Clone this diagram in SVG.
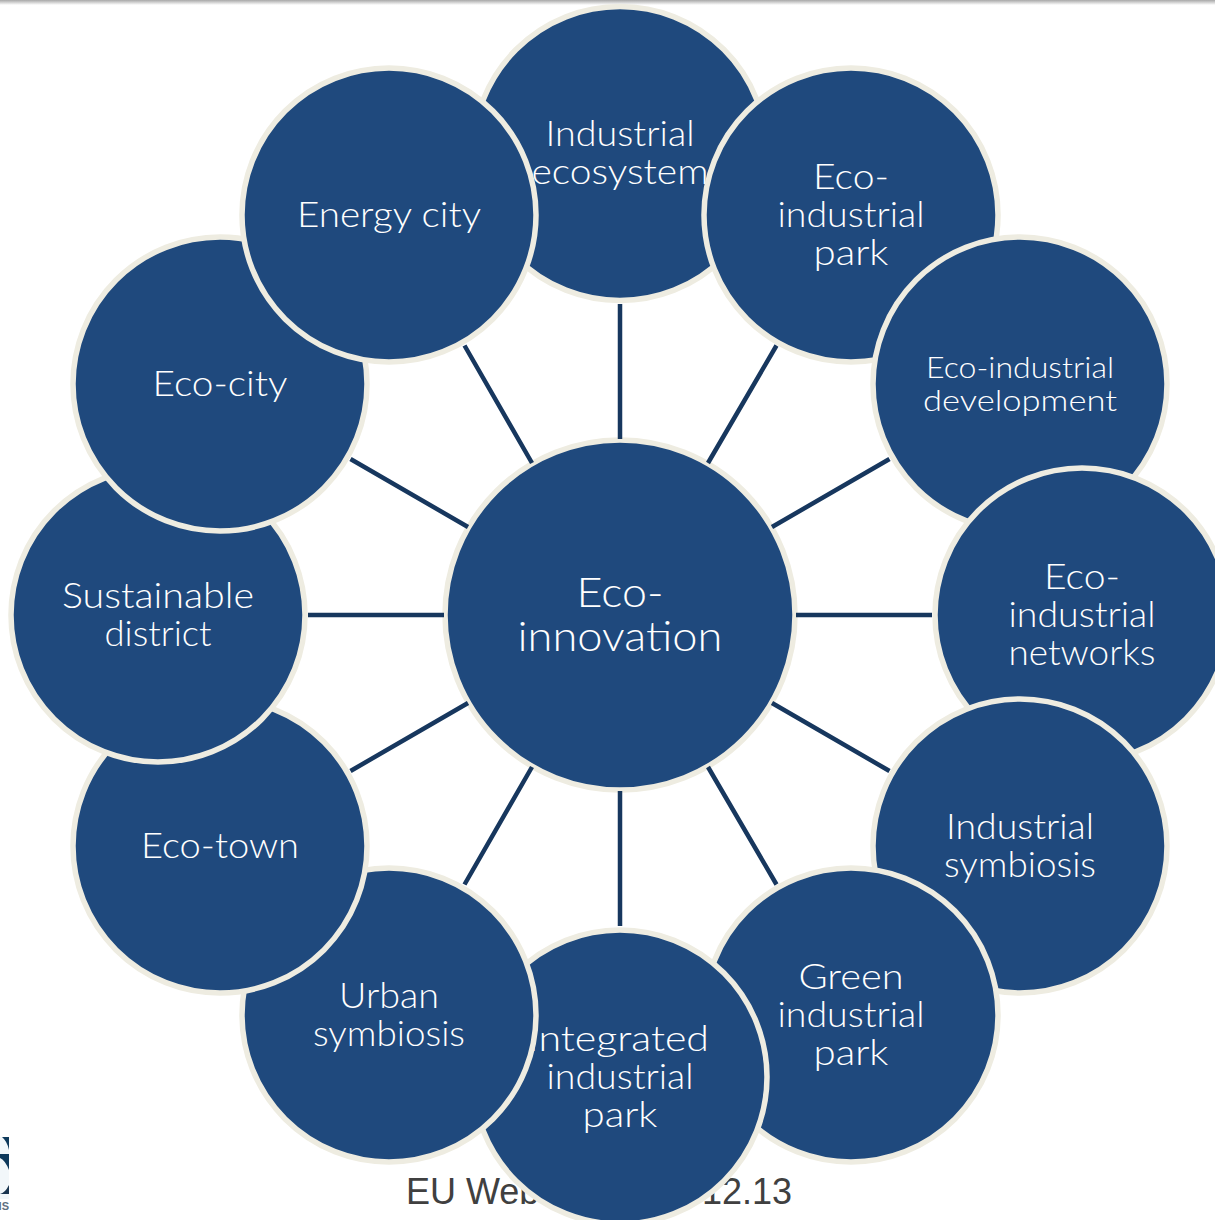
<svg xmlns="http://www.w3.org/2000/svg" width="1215" height="1220" viewBox="0 0 1215 1220">
<defs><linearGradient id="bar" x1="0" y1="0" x2="0" y2="1"><stop offset="0" stop-color="#a8a8a8"/><stop offset="1" stop-color="#ffffff"/></linearGradient></defs>
<style>
.c{fill:#1f497d;stroke:#eeece1;stroke-width:5.5}
.t{font-family:"Lato","Open Sans",sans-serif;font-weight:300;font-size:35px;fill:#fff;text-anchor:middle}
.s{stroke:#17375e;stroke-width:4.5;fill:none}
.f{font-family:"Liberation Sans",Arial,sans-serif;font-size:36px;fill:#404040}
</style>
<rect width="1215" height="1220" fill="#fff"/>
<rect width="1215" height="5" fill="url(#bar)"/>
<g id="logo"><rect x="0" y="1137" width="9" height="62" fill="#f2f7fa"/><path d="M2 1137H9V1150Q7 1141 2 1137Z" fill="#0f3a5c"/><path d="M0 1154H9V1170Q5 1160 0 1158Z" fill="#0f3a5c"/><path d="M0 1194Q5 1193 9 1185V1194Z" fill="#1a3550"/><text x="9" y="1210" font-family="Liberation Sans,sans-serif" font-size="11" font-weight="bold" fill="#607080" text-anchor="end">IS</text></g>
<text class="f" x="406" y="1204">EU Web</text><text class="f" x="792" y="1204" text-anchor="end">12.13</text>
<g id="n-industrial-ecosystem"><circle class="c" cx="620" cy="153.5" r="147"/><text class="t" x="620" y="146" textLength="149" lengthAdjust="spacingAndGlyphs">Industrial</text><text class="t" x="620" y="184" textLength="177" lengthAdjust="spacingAndGlyphs">ecosystem</text></g>
<g id="n-eco-industrial-park"><circle class="c" cx="851" cy="215" r="147"/><text class="t" x="851" y="189" textLength="76" lengthAdjust="spacingAndGlyphs">Eco-</text><text class="t" x="851" y="227" textLength="147" lengthAdjust="spacingAndGlyphs">industrial</text><text class="t" x="851" y="265" textLength="75" lengthAdjust="spacingAndGlyphs">park</text></g>
<g id="n-eco-industrial-development"><circle class="c" cx="1020" cy="384" r="147"/><text class="t" x="1020" y="378" style="font-size:30px" textLength="188" lengthAdjust="spacingAndGlyphs">Eco-industrial</text><text class="t" x="1020" y="411" style="font-size:30px" textLength="194" lengthAdjust="spacingAndGlyphs">development</text></g>
<g id="n-eco-industrial-networks"><circle class="c" cx="1082" cy="615" r="147"/><text class="t" x="1082" y="589" textLength="76" lengthAdjust="spacingAndGlyphs">Eco-</text><text class="t" x="1082" y="627" textLength="147" lengthAdjust="spacingAndGlyphs">industrial</text><text class="t" x="1082" y="665" textLength="147" lengthAdjust="spacingAndGlyphs">networks</text></g>
<g id="n-industrial-symbiosis"><circle class="c" cx="1020" cy="846" r="147"/><text class="t" x="1020" y="839" textLength="148" lengthAdjust="spacingAndGlyphs">Industrial</text><text class="t" x="1020" y="877" textLength="152" lengthAdjust="spacingAndGlyphs">symbiosis</text></g>
<g id="n-green-industrial-park"><circle class="c" cx="851" cy="1015" r="147"/><text class="t" x="851" y="989" textLength="105" lengthAdjust="spacingAndGlyphs">Green</text><text class="t" x="851" y="1027" textLength="147" lengthAdjust="spacingAndGlyphs">industrial</text><text class="t" x="851" y="1065" textLength="75" lengthAdjust="spacingAndGlyphs">park</text></g>
<g id="n-integrated-industrial-park"><circle class="c" cx="620" cy="1077" r="147"/><text class="t" x="618.5" y="1051" textLength="181" lengthAdjust="spacingAndGlyphs">Integrated</text><text class="t" x="620" y="1089" textLength="147" lengthAdjust="spacingAndGlyphs">industrial</text><text class="t" x="620" y="1127" textLength="75" lengthAdjust="spacingAndGlyphs">park</text></g>
<g id="n-urban-symbiosis"><circle class="c" cx="389" cy="1015" r="147"/><text class="t" x="389" y="1008" textLength="100" lengthAdjust="spacingAndGlyphs">Urban</text><text class="t" x="389" y="1046" textLength="152" lengthAdjust="spacingAndGlyphs">symbiosis</text></g>
<g id="n-eco-town"><circle class="c" cx="220" cy="846" r="147"/><text class="t" x="220" y="858" textLength="158" lengthAdjust="spacingAndGlyphs">Eco-town</text></g>
<g id="n-sustainable-district"><circle class="c" cx="158" cy="615" r="147"/><text class="t" x="158" y="608" textLength="192" lengthAdjust="spacingAndGlyphs">Sustainable</text><text class="t" x="158" y="646" textLength="107" lengthAdjust="spacingAndGlyphs">district</text></g>
<g id="n-eco-city"><circle class="c" cx="220" cy="384" r="147"/><text class="t" x="220" y="396" textLength="135" lengthAdjust="spacingAndGlyphs">Eco-city</text></g>
<g id="n-energy-city"><circle class="c" cx="389" cy="215" r="147"/><text class="t" x="389" y="227" textLength="184" lengthAdjust="spacingAndGlyphs">Energy city</text></g>
<g id="n-eco-innovation"><circle class="c" cx="620" cy="615" r="175"/><text class="t" x="620" y="607" style="font-size:41px" textLength="87" lengthAdjust="spacingAndGlyphs">Eco-</text><text class="t" x="620" y="651" style="font-size:41px" textLength="205" lengthAdjust="spacingAndGlyphs">innovation</text></g>
<g id="connectors">
<path class="s" d="M620 304V439M776.5 345.5L708 463M889.5 459L772 527M932 615H796M889.5 771L772 703M776.5 884.500L708 767M620 926V791M464.500 884.500L532 767M350.500 771L468 703M308 615H444M350.500 459L468 527M464.500 345.500L532 463"/>
</g>
</svg>
